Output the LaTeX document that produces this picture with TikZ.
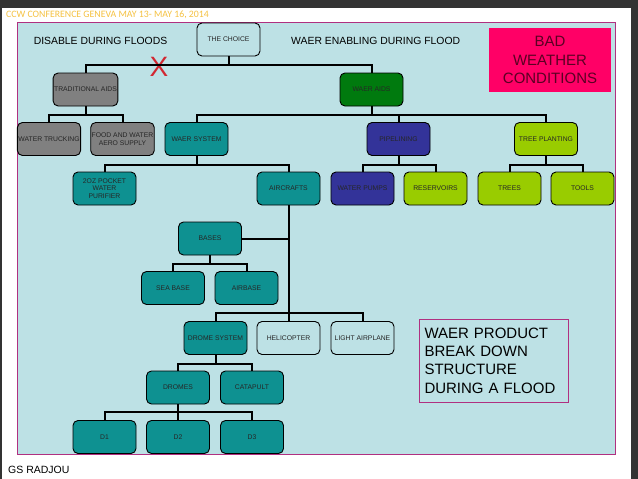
\documentclass[tikz,border=0pt]{standalone}
\usepackage{fontspec}
\setmainfont{Liberation Sans}
\newfontfamily\headfont{Carlito}
\usetikzlibrary{positioning}
\definecolor{panelblue}{RGB}{189,225,229}
\definecolor{framemag}{RGB}{176,48,128}
\definecolor{aidgrey}{RGB}{128,128,128}
\definecolor{aidgreen}{RGB}{0,122,14}
\definecolor{aidteal}{RGB}{14,145,145}
\definecolor{aidnavy}{RGB}{51,51,153}
\definecolor{aidlime}{RGB}{153,204,0}
\definecolor{alertpink}{RGB}{255,0,102}
\definecolor{alerttext}{RGB}{90,0,35}
\definecolor{crossred}{RGB}{210,40,50}
\definecolor{headyellow}{RGB}{245,194,66}
\definecolor{slidedark}{RGB}{51,51,51}
\tikzset{
  treeline/.style={line width=2pt, black},
  basebox/.style={draw, rounded corners=5pt, line width=0.9pt, minimum width=63pt, minimum height=33pt, inner sep=1pt, align=center, text=black!85, font=\fontsize{6.8}{7.6}\selectfont},
  plainbox/.style={basebox, fill=panelblue},
  greybox/.style={basebox, fill=aidgrey},
  greenbox/.style={basebox, fill=aidgreen},
  tealbox/.style={basebox, fill=aidteal},
  navybox/.style={basebox, fill=aidnavy},
  limebox/.style={basebox, fill=aidlime},
  sidelabel/.style={font=\fontsize{10.4}{12}\selectfont, inner sep=0pt},
  bigtext/.style={font=\fontsize{15}{18.3}\selectfont, inner sep=0pt}
}
\begin{document}
\begin{tikzpicture}[x=1pt, y=-1pt]
  \useasboundingbox (0,0) rectangle (638,479);
  % slide and panel
  \fill[slidedark] (0,0) rectangle (638,479);
  \fill[white] (2,8) rectangle (631,479);
  \draw[framemag, fill=panelblue, line width=0.6pt] (17,22) rectangle (615,454);
  \node[anchor=west, text=headyellow, font=\headfont\fontsize{9.8}{11}\selectfont, inner sep=0pt] (head) at (6,14.5) {CCW CONFERENCE GENEVA MAY 13- MAY 16, 2014};
  \node[anchor=west, font=\fontsize{10.5}{12}\selectfont, inner sep=0pt] (author) at (8,470) {GS RADJOU};

  % top level
  \node[plainbox] (choice) at (228.5,39.5) {THE CHOICE};
  \node[sidelabel] (disable) at (100.5,41) {DISABLE DURING FLOODS};
  \node[sidelabel, anchor=west] (enable) at (291,41) {WAER ENABLING DURING FLOOD};
  \node[fill=alertpink, text=alerttext, minimum width=122pt, minimum height=64pt, align=center, bigtext] (weather) at (550,60) {BAD\\WEATHER\\CONDITIONS};
  \node[text=crossred, font=\fontsize{28}{28}\selectfont, inner sep=0pt] (cross) at (159,67) {X};

  \node[greybox] (trad) at (85.5,89.5) {TRADITIONAL AIDS};
  \node[greenbox] (waeraids) at (371.5,89.5) {WAER AIDS};

  \node[greybox] (trucking) at (49,139) {WATER TRUCKING};
  \node[greybox] (food) at (122.5,139) {FOOD AND WATER\\AERO SUPPLY};
  \node[tealbox] (waersys) at (196.5,139) {WAER SYSTEM};
  \node[navybox] (pipe) at (398.5,139) {PIPELINING};
  \node[limebox] (planting) at (546,139) {TREE PLANTING};

  \node[tealbox] (pocket) at (104.5,188.5) {2OZ POCKET\\WATER\\PURIFIER};
  \node[tealbox] (aircrafts) at (288.5,188.5) {AIRCRAFTS};
  \node[navybox] (pumps) at (362.5,188.5) {WATER PUMPS};
  \node[limebox] (reservoirs) at (435.5,188.5) {RESERVOIRS};
  \node[limebox] (trees) at (509.5,188.5) {TREES};
  \node[limebox] (tools) at (582.5,188.5) {TOOLS};

  \node[tealbox] (bases) at (210,238.5) {BASES};
  \node[tealbox] (seabase) at (173,288) {SEA BASE};
  \node[tealbox] (airbase) at (246.5,288) {AIRBASE};

  \node[tealbox] (dromesys) at (215.5,338) {DROME SYSTEM};
  \node[plainbox] (heli) at (288.5,338) {HELICOPTER};
  \node[plainbox] (light) at (362.5,338) {LIGHT AIRPLANE};
  \node[draw=framemag, line width=0.6pt, minimum width=149pt, minimum height=83pt, align=left, bigtext, text width=138pt] (wbs) at (493.5,360.5) {WAER PRODUCT\\BREAK DOWN\\STRUCTURE\\DURING A FLOOD};

  \node[tealbox] (dromes) at (178,387.5) {DROMES};
  \node[tealbox] (catapult) at (252,387.5) {CATAPULT};

  \node[tealbox] (d1) at (104.5,437) {D1};
  \node[tealbox] (d2) at (178,437) {D2};
  \node[tealbox] (d3) at (252,437) {D3};

  % connectors
  \draw[treeline] (choice.south) -- ++(0,9) -| (trad.north);
  \draw[treeline] (choice.south) -- ++(0,9) -| (waeraids.north);
  \draw[treeline] (trad.south) -- ++(0,9) -| (trucking.north);
  \draw[treeline] (trad.south) -- ++(0,9) -| (food.north);
  \draw[treeline] (waeraids.south) -- ++(0,9) -| (waersys.north);
  \draw[treeline] (waeraids.south) -- ++(0,9) -| (pipe.north);
  \draw[treeline] (waeraids.south) -- ++(0,9) -| (planting.north);
  \draw[treeline] (waersys.south) -- ++(0,9) -| (pocket.north);
  \draw[treeline] (waersys.south) -- ++(0,9) -| (aircrafts.north);
  \draw[treeline] (pipe.south) -- ++(0,9) -| (pumps.north);
  \draw[treeline] (pipe.south) -- ++(0,9) -| (reservoirs.north);
  \draw[treeline] (planting.south) -- ++(0,9) -| (trees.north);
  \draw[treeline] (planting.south) -- ++(0,9) -| (tools.north);
  \draw[treeline] (bases.east) -- (bases.east -| aircrafts.south);
  \draw[treeline] (bases.south) -- ++(0,9) -| (seabase.north);
  \draw[treeline] (bases.south) -- ++(0,9) -| (airbase.north);
  \draw[treeline] (aircrafts.south) -- ++(0,108) -| (dromesys.north);
  \draw[treeline] (aircrafts.south) -- ++(0,108) -| (heli.north);
  \draw[treeline] (aircrafts.south) -- ++(0,108) -| (light.north);
  \draw[treeline] (dromesys.south) -- ++(0,9) -| (dromes.north);
  \draw[treeline] (dromesys.south) -- ++(0,9) -| (catapult.north);
  \draw[treeline] (dromes.south) -- ++(0,8) -| (d1.north);
  \draw[treeline] (dromes.south) -- ++(0,8) -| (d2.north);
  \draw[treeline] (dromes.south) -- ++(0,8) -| (d3.north);
\end{tikzpicture}
\end{document}
